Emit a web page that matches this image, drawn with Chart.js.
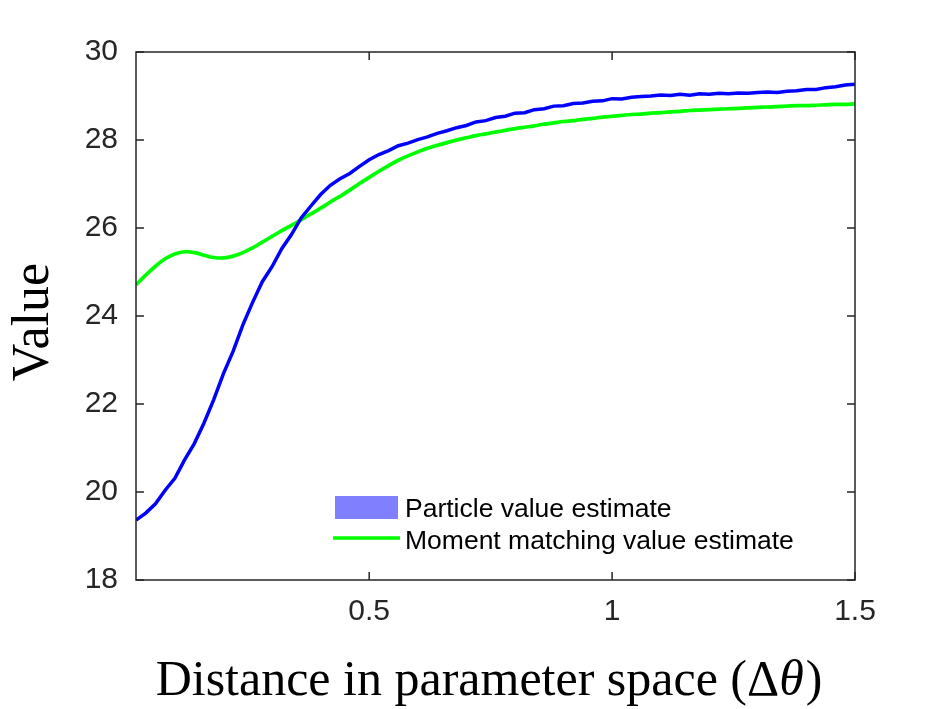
<!DOCTYPE html>
<html>
<head>
<meta charset="utf-8">
<title>Value vs distance in parameter space</title>
<script src="https://cdn.jsdelivr.net/npm/chart.js@4.4.1/dist/chart.umd.min.js"></script>
<style>
    html, body { margin: 0; padding: 0; background: #ffffff; }
    #contenedor { width: 946px; height: 709px; }
</style>
</head>
<body>
<div id="contenedor"><canvas id="grafico" width="946" height="709"></canvas></div>
<script>
// ==================== DATOS ====================

const distancias = [
    0.02, 0.04, 0.06, 0.08, 0.10, 0.12, 0.14, 0.16, 0.18, 0.20,
    0.22, 0.24, 0.26, 0.28, 0.30, 0.32, 0.34, 0.36, 0.38, 0.40,
    0.42, 0.44, 0.46, 0.48, 0.50, 0.52, 0.54, 0.56, 0.58, 0.60,
    0.62, 0.64, 0.66, 0.68, 0.70, 0.72, 0.74, 0.76, 0.78, 0.80,
    0.82, 0.84, 0.86, 0.88, 0.90, 0.92, 0.94, 0.96, 0.98, 1.00,
    1.02, 1.04, 1.06, 1.08, 1.10, 1.12, 1.14, 1.16, 1.18, 1.20,
    1.22, 1.24, 1.26, 1.28, 1.30, 1.32, 1.34, 1.36, 1.38, 1.40,
    1.42, 1.44, 1.46, 1.48, 1.50
];

// estimación por partículas (curva azul, con ruido)
const valorParticulas = [
    19.36, 19.52, 19.73, 20.04, 20.31, 20.73, 21.10, 21.57, 22.10, 22.69,
    23.20, 23.80, 24.31, 24.78, 25.12, 25.53, 25.85, 26.23, 26.50, 26.76,
    26.97, 27.12, 27.24, 27.40, 27.55, 27.67, 27.76, 27.87, 27.93, 28.01,
    28.07, 28.15, 28.21, 28.28, 28.33, 28.41, 28.44, 28.51, 28.54, 28.61,
    28.62, 28.69, 28.71, 28.77, 28.78, 28.83, 28.84, 28.88, 28.89, 28.94,
    28.93, 28.97, 28.99, 29.00, 29.02, 29.01, 29.04, 29.02, 29.05, 29.04,
    29.06, 29.05, 29.07, 29.06, 29.08, 29.09, 29.08, 29.11, 29.12, 29.15,
    29.15, 29.19, 29.21, 29.25, 29.27
];

// moment matching (curva verde)
const valorMomentos = [
    24.71, 24.93, 25.13, 25.30, 25.41, 25.46, 25.44, 25.38, 25.33, 25.32,
    25.36, 25.44, 25.55, 25.68, 25.81, 25.94, 26.06, 26.19, 26.32, 26.45,
    26.59, 26.72, 26.86, 27.01, 27.15, 27.29, 27.42, 27.54, 27.64, 27.73,
    27.81, 27.88, 27.94, 28.00, 28.05, 28.10, 28.14, 28.18, 28.22, 28.26,
    28.29, 28.32, 28.36, 28.39, 28.42, 28.44, 28.47, 28.49, 28.52, 28.54,
    28.56, 28.58, 28.59, 28.61, 28.62, 28.64, 28.65, 28.67, 28.68, 28.69,
    28.70, 28.71, 28.72, 28.73, 28.74, 28.75, 28.76, 28.77, 28.78, 28.78,
    28.79, 28.80, 28.81, 28.81, 28.82
];

const ticksX = [0.5, 1, 1.5];
const ticksY = [18, 20, 22, 24, 26, 28, 30];
const etiquetasLeyenda = ['Particle value estimate', 'Moment matching value estimate'];
const tituloY = 'Value';
const tituloX = ['Distance in parameter space (\u0394', '\u03b8', ')'];

// ==================== UTILIDADES ====================

const SANS = '"Liberation Sans", Arial, Helvetica, sans-serif';
const SERIF = '"Liberation Serif", "Times New Roman", serif';
const COLOR_EJES = '#262626';

function puntos(xs, ys) {
    return xs.map((x, i) => ({ x: x, y: ys[i] }));
}

// caja del eje con marcas hacia dentro, títulos y leyenda
const decoracion = {
    id: 'decoracion',
    afterDatasetsDraw(chart) {
        const ctx = chart.ctx;
        const area = chart.chartArea;
        const sx = chart.scales.x;
        const sy = chart.scales.y;
        const largo = 8;

        ctx.save();
        ctx.strokeStyle = COLOR_EJES;
        ctx.lineWidth = 1.5;
        ctx.strokeRect(area.left, area.top, area.right - area.left, area.bottom - area.top);

        ctx.beginPath();
        ticksX.forEach(v => {
            const px = sx.getPixelForValue(v);
            ctx.moveTo(px, area.bottom); ctx.lineTo(px, area.bottom - largo);
            ctx.moveTo(px, area.top); ctx.lineTo(px, area.top + largo);
        });
        ticksY.forEach(v => {
            const py = sy.getPixelForValue(v);
            ctx.moveTo(area.left, py); ctx.lineTo(area.left + largo, py);
            ctx.moveTo(area.right, py); ctx.lineTo(area.right - largo, py);
        });
        ctx.stroke();

        // leyenda
        ctx.fillStyle = '#8080ff';
        ctx.fillRect(335, 496, 63, 23);
        ctx.strokeStyle = '#00ff00';
        ctx.lineWidth = 3.7;
        ctx.beginPath();
        ctx.moveTo(333, 538); ctx.lineTo(400, 538);
        ctx.stroke();
        ctx.fillStyle = '#000000';
        ctx.font = '26.5px ' + SANS;
        ctx.textAlign = 'left';
        ctx.textBaseline = 'alphabetic';
        ctx.fillText(etiquetasLeyenda[0], 405, 517);
        ctx.fillText(etiquetasLeyenda[1], 405, 549);

        // título eje x (theta en cursiva)
        const fNormal = '50px ' + SERIF;
        const fCursiva = 'italic 50px ' + SERIF;
        ctx.font = fNormal;
        const w0 = ctx.measureText(tituloX[0]).width;
        const w2 = ctx.measureText(tituloX[2]).width;
        ctx.font = fCursiva;
        const w1 = ctx.measureText(tituloX[1]).width;
        let x0 = 488 - (w0 + w1 + w2) / 2;
        ctx.font = fNormal;
        ctx.fillText(tituloX[0], x0, 695);
        ctx.font = fCursiva;
        ctx.fillText(tituloX[1], x0 + w0, 695);
        ctx.font = fNormal;
        ctx.fillText(tituloX[2], x0 + w0 + w1 + 2, 695);

        // título eje y
        ctx.translate(48, 322);
        ctx.rotate(-Math.PI / 2);
        ctx.font = '52px ' + SERIF;
        ctx.textAlign = 'center';
        ctx.fillText(tituloY, 0, 0);
        ctx.restore();
    }
};

// ==================== GRÁFICO ====================

new Chart(document.getElementById('grafico'), {
    type: 'scatter',
    data: {
        datasets: [{
            label: etiquetasLeyenda[0],
            data: puntos(distancias, valorParticulas),
            showLine: true,
            borderColor: '#0000ff',
            borderWidth: 3.5,
            pointRadius: 0,
            tension: 0
        }, {
            label: etiquetasLeyenda[1],
            data: puntos(distancias, valorMomentos),
            showLine: true,
            borderColor: '#00ff00',
            borderWidth: 3.7,
            pointRadius: 0,
            tension: 0.4
        }]
    },
    options: {
        responsive: false,
        animation: false,
        layout: { padding: { top: 52, right: 91, left: 0, bottom: 0 } },
        plugins: {
            legend: { display: false },
            tooltip: { enabled: false }
        },
        scales: {
            x: {
                type: 'linear',
                min: 0.02,
                max: 1.5,
                afterBuildTicks: s => { s.ticks = ticksX.map(v => ({ value: v })); },
                afterFit: s => { s.height = 129; },
                grid: { display: false, drawTicks: false },
                border: { display: false },
                ticks: {
                    color: COLOR_EJES,
                    font: { family: SANS, size: 30 },
                    padding: 14,
                    maxRotation: 0,
                    callback: v => String(v)
                }
            },
            y: {
                type: 'linear',
                min: 18,
                max: 30,
                afterBuildTicks: s => { s.ticks = ticksY.map(v => ({ value: v })); },
                afterFit: s => { s.width = 136; },
                grid: { display: false, drawTicks: false },
                border: { display: false },
                ticks: {
                    color: COLOR_EJES,
                    font: { family: SANS, size: 30 },
                    padding: 18,
                    callback: v => String(v)
                }
            }
        }
    },
    plugins: [decoracion]
});
</script>
</body>
</html>
